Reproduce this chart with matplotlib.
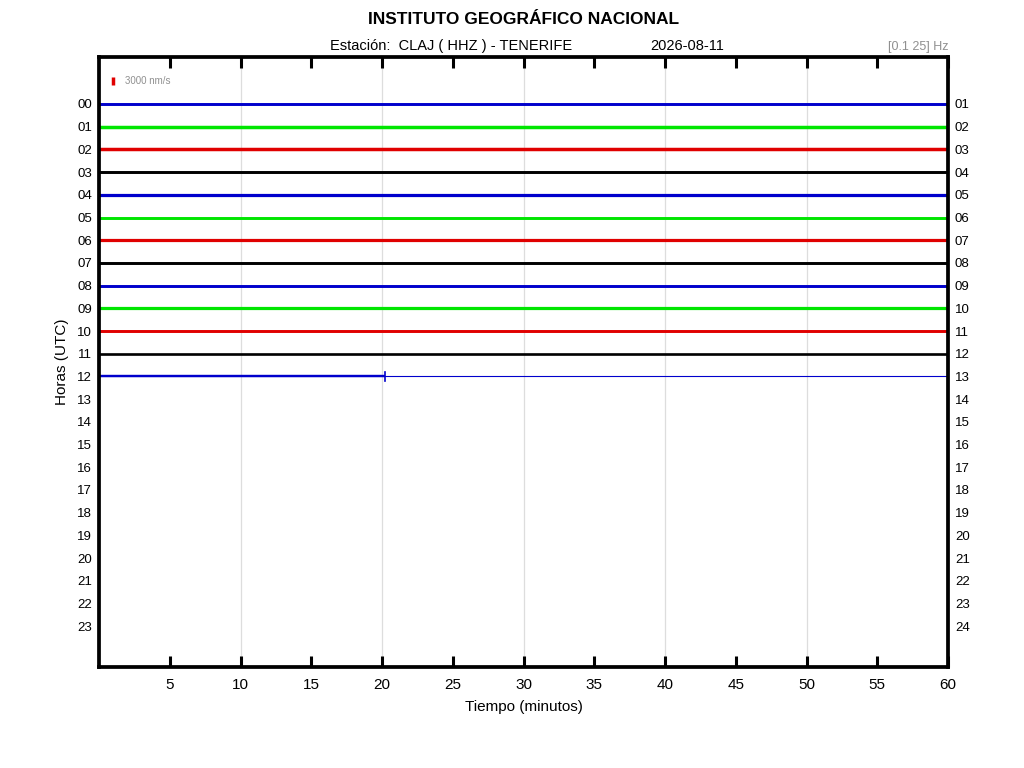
import matplotlib
matplotlib.use('Agg')
import matplotlib.pyplot as plt

horas = list(range(24))
etiq_izq = ['%02d' % h for h in horas]
etiq_der = ['%02d' % (h + 1) for h in horas]
# amplitud pico-pico del ruido por hora, nm/s (solo hay datos hasta las 12)
amplitud_nm_s = [1100, 1300, 1300, 1100, 1200, 1100, 1200, 1100, 1100, 1200, 1100, 1000, 900]
fin_datos_min = 20.2      # ultimo minuto con datos en la hora 12
pico_final_nm_s = 3200    # salto al final de los datos
escala_nm_s = 3000
colores = ['#0000cc', '#00e600', '#e00000', '#000000']

plt.rcParams['font.family'] = ['Liberation Sans', 'DejaVu Sans']

fig = plt.figure(figsize=(10.24, 7.68), dpi=100)
ax = fig.add_axes([99 / 1024, 1 - 667 / 768, 849 / 1024, 610 / 768])

fac = 0.35 / escala_nm_s       # filas por nm/s
pt = 0.72 * 8 / escala_nm_s    # puntos de grosor por nm/s

for h, amp in enumerate(amplitud_nm_s):
    c = colores[h % 4]
    if h == len(amplitud_nm_s) - 1:
        ax.plot([0, fin_datos_min], [h, h], color=c, lw=amp * pt, solid_capstyle='butt')
        ax.plot([0, 60], [h, h], color=c, lw=0.8)
        p = pico_final_nm_s * fac / 2
        ax.plot([fin_datos_min, fin_datos_min], [h - p, h + p], color=c, lw=1.2)
    else:
        ax.plot([0, 60], [h, h], color=c, lw=amp * pt, solid_capstyle='butt')

# barra de escala
ax.plot([0.99, 0.99], [-1.01 - escala_nm_s * fac / 2, -1.01 + escala_nm_s * fac / 2], color='#e00000', lw=2.5,
        solid_capstyle='butt')
ax.text(1.84, -1.01, '%d nm/s' % escala_nm_s, color='#909090', fontsize=7, va='center', ha='left')

ax.set_xlim(0, 60)
ax.set_ylim(24.8, -2.07)
ax.set_xticks(range(5, 61, 5))
ax.tick_params(axis='x', direction='in', length=8, width=2.2, top=True, labelsize=11, pad=8)
ax.set_yticks(horas)
ax.set_yticklabels(etiq_izq)
ax.tick_params(axis='y', length=0, labelsize=9.5, pad=5)
for s in ax.spines.values():
    s.set_linewidth(2.7)
ax2 = ax.twinx()
ax2.set_ylim(ax.get_ylim())
ax2.set_yticks(horas)
ax2.set_yticklabels(etiq_der)
ax2.tick_params(axis='y', length=0, labelsize=9.5, pad=5)
for s in ax2.spines.values():
    s.set_visible(False)

for x in range(10, 60, 10):
    ax.axvline(x, color='#dddddd', lw=0.9, zorder=0)

ax.set_xlabel('Tiempo (minutos)', fontsize=11, labelpad=6)
ax.set_ylabel('Horas (UTC)', fontsize=11, labelpad=6)

fig.text(524 / 1024, 1 - 20 / 768, 'INSTITUTO GEOGRÁFICO NACIONAL', ha='center', va='center',
         fontsize=12.5, fontweight='bold')
fig.text(451 / 1024, 1 - 46 / 768, 'Estación:  CLAJ ( HHZ ) - TENERIFE', ha='center', va='center', fontsize=10.5)
fig.text(687 / 1024, 1 - 46 / 768, '2026-08-11', ha='center', va='center', fontsize=10.5)
fig.text(948 / 1024, 1 - 47 / 768, '[0.1 25] Hz', ha='right', va='center', fontsize=9, color='#909090')

fig.savefig('out.png', dpi=100)
